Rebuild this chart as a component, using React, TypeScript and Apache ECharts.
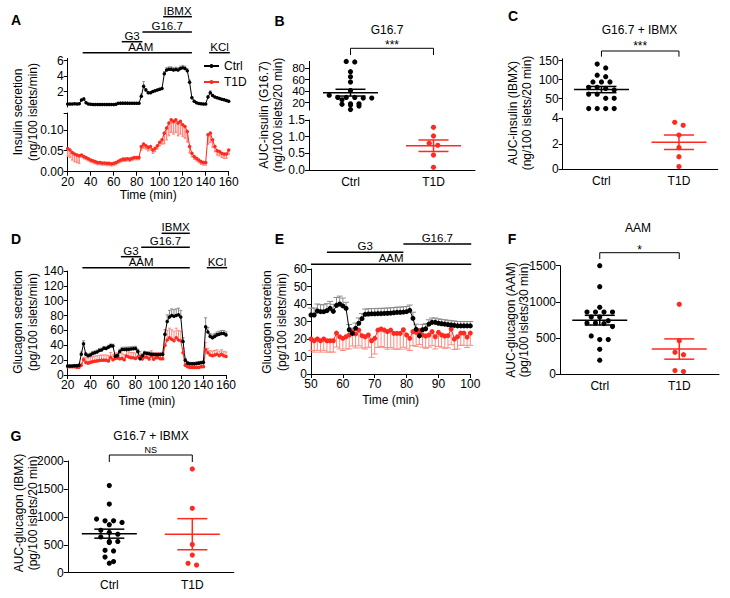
import React, { useEffect, useRef } from "react";
import * as echarts from "echarts";

const FONT = "'Liberation Sans', Arial, Helvetica, sans-serif";
const BLACK = "#000000";
const RED = "#ff2a1f";
const RED_ERR = "#ff8a80";
const GREY_ERR = "#8c8c8c";

// ---------------- DATA ----------------
const groups = ["Ctrl", "T1D"];

// perifusion sampling times (min)
const timesAD = [20, 22, 24, 26, 28, 30, 32, 34, 36, 38, 40, 42, 44, 46, 48, 50, 52, 54, 56, 58, 60, 62, 64, 66, 68, 70, 72, 74, 76, 78, 80, 82, 84, 86, 88, 90, 92, 94, 96, 98, 100, 102, 104, 106, 108, 110, 112, 114, 116, 118, 120, 122, 124, 126, 128, 130, 132, 134, 136, 138, 140, 142, 144, 146, 148, 150, 152, 154, 156, 158, 160];
const timesE = [50, 51, 52, 53, 54, 55, 56, 57, 58, 59, 60, 61, 62, 63, 64, 65, 66, 67, 68, 69, 70, 71, 72, 73, 74, 75, 76, 77, 78, 79, 80, 81, 82, 83, 84, 85, 86, 87, 88, 89, 90, 91, 92, 93, 94, 95, 96, 97, 98, 99, 100];

// A: insulin secretion (ng/100 islets/min)
const insulinCtrl = [
  0.40, 0.40, 0.40, 0.41, 0.40, 0.42, 0.90, 1.05, 0.55, 0.40,
  0.35, 0.33, 0.33, 0.33, 0.32, 0.32, 0.32, 0.32, 0.32, 0.33,
  0.33, 0.35, 0.48, 0.50, 0.50, 0.50, 0.50, 0.48, 0.48, 0.48,
  0.48, 0.48, 1.40, 2.70, 2.20, 1.85, 1.85, 2.00, 2.10, 2.20,
  2.30, 2.40, 4.30, 4.80, 4.90, 4.90, 4.80, 4.85, 4.80, 5.00,
  5.10, 5.00, 4.70, 3.20, 1.20, 0.75, 0.55, 0.45, 0.42, 0.40,
  0.40, 1.30, 1.85, 1.50, 1.30, 1.20, 1.10, 1.00, 0.95, 0.85, 0.75,
];
const insulinCtrlSem = [
  0.05, 0.05, 0.05, 0.05, 0.05, 0.05, 0.10, 0.15, 0.08, 0.04,
  0.04, 0.04, 0.04, 0.04, 0.04, 0.04, 0.04, 0.04, 0.04, 0.04,
  0.04, 0.04, 0.05, 0.05, 0.05, 0.05, 0.05, 0.05, 0.05, 0.05,
  0.05, 0.05, 0.30, 0.60, 0.20, 0.12, 0.12, 0.12, 0.12, 0.12,
  0.12, 0.12, 0.30, 0.30, 0.30, 0.30, 0.30, 0.30, 0.30, 0.30,
  0.30, 0.30, 0.30, 0.30, 0.15, 0.05, 0.05, 0.05, 0.05, 0.05,
  0.05, 0.20, 0.25, 0.15, 0.08, 0.08, 0.08, 0.08, 0.08, 0.08, 0.08,
];
const insulinT1D = [
  0.055, 0.052, 0.046, 0.042, 0.040, 0.038, 0.040, 0.036, 0.034, 0.031,
  0.028, 0.026, 0.024, 0.022, 0.022, 0.021, 0.021, 0.020, 0.020, 0.019,
  0.020, 0.022, 0.025, 0.028, 0.030, 0.030, 0.031, 0.030, 0.032, 0.034,
  0.034, 0.034, 0.060, 0.066, 0.062, 0.058, 0.060, 0.052, 0.056, 0.062,
  0.070, 0.076, 0.092, 0.104, 0.116, 0.124, 0.120, 0.124, 0.116, 0.120,
  0.112, 0.108, 0.096, 0.060, 0.044, 0.036, 0.032, 0.028, 0.024, 0.022,
  0.022, 0.088, 0.092, 0.076, 0.060, 0.050, 0.048, 0.044, 0.042, 0.042, 0.052,
];
const insulinT1DSem = [
  0.018, 0.018, 0.018, 0.018, 0.018, 0.018, 0.005, 0.005, 0.005, 0.005,
  0.005, 0.005, 0.005, 0.005, 0.005, 0.005, 0.005, 0.005, 0.005, 0.005,
  0.005, 0.005, 0.005, 0.005, 0.005, 0.005, 0.005, 0.005, 0.005, 0.005,
  0.005, 0.005, 0.008, 0.010, 0.008, 0.008, 0.008, 0.008, 0.008, 0.008,
  0.008, 0.010, 0.025, 0.028, 0.030, 0.030, 0.030, 0.030, 0.030, 0.030,
  0.028, 0.028, 0.025, 0.015, 0.008, 0.006, 0.006, 0.006, 0.006, 0.006,
  0.006, 0.022, 0.022, 0.018, 0.012, 0.010, 0.010, 0.010, 0.010, 0.010, 0.010,
];

// D: glucagon secretion (pg/100 islets/min)
const glucagonCtrl = [
  12, 12, 12, 12.5, 12.5, 13, 28, 42, 28, 26,
  27, 29, 30, 31, 33, 33.7, 36, 35.6, 37.5, 39.2,
  38.9, 25.3, 26.1, 31.6, 34.3, 34.4, 34.5, 34.7, 35, 35.2,
  35.6, 31.8, 21.8, 25.8, 29.5, 29, 28.5, 28, 27.5, 27.5,
  27.5, 27.5, 28, 55, 72, 78, 80, 79, 80, 81,
  78, 45, 20, 16, 15, 15, 15, 15.5, 16, 16.5,
  17, 65, 58, 52, 50, 52, 54, 55, 56, 56, 54,
];
const glucagonCtrlSem = [
  1.5, 1.5, 1.5, 1.5, 1.5, 1.5, 3, 4, 2, 2.5,
  2.5, 2.5, 2.5, 2.5, 2.5, 2.5, 2.5, 2.5, 2.5, 2.5,
  2.5, 3, 3, 3, 3, 3, 3, 3, 3, 3,
  3, 3, 3, 3, 2.5, 2.5, 2.5, 2.5, 2.5, 2.5,
  2.5, 2.5, 2.5, 6, 9, 9, 9, 9, 9, 9,
  9, 5, 2, 2, 2, 2, 2, 2, 2, 2,
  2, 12, 6, 4, 4, 4, 4, 4, 4, 4, 4,
];
const glucagonT1D = [
  11, 11, 11, 11, 10.5, 10.5, 13, 21, 17, 16,
  17, 18, 18.5, 19, 19.5, 20, 20, 20, 19, 23.4,
  20.4, 22.3, 22.9, 21.9, 22.3, 20.4, 25.7, 24.2, 23.2, 23.2,
  22.3, 24.2, 24.8, 21.7, 24.2, 23.8, 21.7, 25.7, 21.3, 23.4,
  23.4, 22, 22, 40, 47, 50, 48, 46, 50, 47,
  46, 30, 13, 11, 10, 10, 10, 10, 10, 11,
  11, 34, 30, 27, 26, 27, 28, 26, 28, 26, 25,
];
const glucagonT1DSem = [
  1.5, 1.5, 1.5, 1.5, 1.5, 1.5, 3, 3, 7, 7,
  7, 7, 7, 7, 7, 7, 7, 7, 7, 7,
  7, 7, 7, 7, 7, 7, 7, 7, 7, 7,
  7, 7, 7, 7, 7, 7, 7, 7, 7, 7,
  7, 7, 7, 13, 13, 13, 13, 13, 13, 13,
  13, 6, 2, 2, 2, 2, 2, 2, 2, 2,
  2, 10, 6, 6, 6, 6, 6, 6, 6, 6, 6,
];

// E: glucagon secretion, 50-100 min
const glucagonECtrl = [
  33.7, 33.7, 36, 35.6, 35.6, 36.2, 37.5, 35.8, 39.2, 40,
  38.9, 37.5, 25.3, 23.2, 26.1, 29, 31.6, 34.1, 34.3, 34.4,
  34.4, 34.5, 34.5, 34.6, 34.7, 34.8, 35, 35.2, 35.2, 35.4,
  35.6, 36.4, 31.8, 25.5, 21.8, 25.3, 25.8, 28.5, 29.5, 29.5,
  29, 28.7, 28.5, 28.2, 28, 27.8, 27.5, 27.5, 27.5, 27.5, 27.5,
];
const glucagonECtrlSem = [
  4, 4, 4, 4, 4, 4, 4, 4, 4.5, 4.5,
  4.5, 3.5, 3, 3, 3, 3, 3, 3, 3, 3,
  3, 3, 3, 3, 3, 3, 3, 3, 3, 3,
  3, 3, 3.5, 3, 3, 3, 3, 2.5, 2.5, 2.5,
  2.5, 2.5, 2.5, 2.5, 2.5, 2.5, 2.5, 2.5, 2.5, 2.5, 2.5,
];
const glucagonET1D = [
  20, 19, 20, 19, 20, 19, 19, 19, 23.4, 21.3,
  20.4, 21.3, 22.3, 24, 22.9, 25.1, 21.9, 21.3, 22.3, 19,
  20.4, 25.1, 25.7, 25.1, 24.2, 25.1, 23.2, 23.2, 23.2, 25.3,
  22.3, 20.4, 24.2, 23.8, 24.8, 22.3, 21.7, 22.3, 24.2, 21.3,
  23.8, 22.3, 21.7, 21.9, 25.7, 20, 21.3, 23.4, 23.4, 21.1, 23.4,
];
const glucagonET1DSem = [
  6.5, 6.5, 6.5, 6.5, 6.5, 6.5, 6.5, 6.5, 8, 7,
  7, 7, 8, 8, 8, 9, 7, 7, 7, 9.5,
  9, 10, 10, 10, 10, 10, 9, 9, 9, 10,
  8, 7, 8, 8, 8, 7, 7, 7, 8, 7,
  8, 7, 7, 7, 9, 6, 7, 7, 7, 6, 7,
];

// B: AUC insulin G16.7 (ng/100 islets/20 min)
const aucInsG167Ctrl = [91, 92, 74, 65, 56, 41, 33, 29, 29, 28, 29, 28, 25, 18, 18, 17, 16, 14, 8];
const aucInsG167T1D = [1.28, 1.02, 0.74, 0.80, 0.45, 0.08];
// C: AUC insulin IBMX
const aucInsIbmxCtrl = [141, 131, 112, 108, 94, 94, 94, 80, 80, 77, 73, 62, 62, 51, 51, 24, 24, 24, 24];
const aucInsIbmxT1D = [3.69, 3.45, 2.69, 1.70, 0.99, 0.21];
// F: AUC glucagon AAM (pg/100 islets/30 min)
const aucGcgAamCtrl = [1500, 1210, 925, 860, 860, 860, 860, 790, 790, 740, 710, 710, 700, 660, 530, 480, 480, 345, 195];
const aucGcgAamT1D = [966, 465, 304, 271, 51, 37];
// G: AUC glucagon IBMX (pg/100 islets/20 min)
const aucGcgIbmxCtrl = [1560, 1230, 960, 930, 930, 900, 860, 760, 720, 690, 640, 560, 560, 540, 400, 390, 280, 200, 170];
const aucGcgIbmxT1D = [1857, 1152, 507, 316, 167, 137];

// tick values of the broken B axis (upper segment), split in two label sets
const bTopTicksA = [20, 60];
const bTopTicksB = [40, 80];

// perifusion protocols [label, start, end]
const protocolAD: [string, number, number][] = [
  ["IBMX", 103, 128],
  ["G16.7", 85, 128],
  ["G3", 67, 85],
  ["AAM", 33, 128],
  ["KCl", 143, 161],
];
const protocolE: [string, number, number][] = [
  ["G16.7", 79, 100.3],
  ["G3", 55, 79],
  ["AAM", 50, 100.3],
];

// ---------------- LAYOUT ----------------
const GRIDS = [
  { left: 67.7, top: 58.4, width: 161, height: 48.6 }, // 0 A top
  { left: 67.7, top: 113, width: 161, height: 58.7 }, // 1 A bottom
  { left: 309, top: 61.4, width: 166, height: 48.7 }, // 2 B top
  { left: 309, top: 120, width: 166, height: 50 }, // 3 B bottom
  { left: 562.7, top: 58.8, width: 155, height: 51.3 }, // 4 C top
  { left: 562.7, top: 118.3, width: 155, height: 51 }, // 5 C bottom
  { left: 67.7, top: 271, width: 158.3, height: 104 }, // 6 D
  { left: 311, top: 269, width: 159.3, height: 105 }, // 7 E
  { left: 560, top: 265.7, width: 159, height: 108.6 }, // 8 F
  { left: 67.8, top: 461, width: 166, height: 111.7 }, // 9 G
];

function tToX(g: number, t: number, min: number, max: number) {
  const gr = GRIDS[g];
  return gr.left + ((t - min) / (max - min)) * gr.width;
}
function catX(g: number, i: number) {
  const gr = GRIDS[g];
  return gr.left + ((i + 0.5) / groups.length) * gr.width;
}

const axisLineStyle = { show: true, lineStyle: { color: BLACK, width: 1 } };
const plain = (v: number) => String(v);

function yVal(gridIndex: number, min: number, max: number, opt: any = {}) {
  const a: any = {
    type: "value",
    gridIndex,
    min,
    max,
    position: "left",
    axisLine: opt.noLine ? { show: false } : axisLineStyle,
    axisTick: { show: true, length: 4, lineStyle: { color: BLACK, width: 1 }, ...(opt.tick || {}) },
    axisLabel: {
      color: BLACK,
      fontSize: 12,
      fontFamily: FONT,
      margin: 4,
      hideOverlap: false,
      showMinLabel: true,
      showMaxLabel: true,
      formatter: plain,
      ...(opt.label || {}),
    },
    splitLine: { show: false },
  };
  if (opt.interval !== undefined) a.interval = opt.interval;
  return a;
}
function xTime(gridIndex: number, min: number, max: number, interval: number, show: boolean, nameGap = 18) {
  return {
    type: "value",
    gridIndex,
    min,
    max,
    interval,
    show,
    name: show ? "Time (min)" : "",
    nameLocation: "middle",
    nameGap,
    nameTextStyle: { color: BLACK, fontSize: 12, fontFamily: FONT },
    axisLine: axisLineStyle,
    axisTick: { show: true, length: 4, lineStyle: { color: BLACK, width: 1 } },
    axisLabel: { color: BLACK, fontSize: 12, fontFamily: FONT, margin: 4, hideOverlap: false, formatter: plain },
    splitLine: { show: false },
  };
}
function xCat(gridIndex: number, show: boolean) {
  return {
    type: "category",
    gridIndex,
    data: groups,
    show,
    axisLine: axisLineStyle,
    axisTick: { show: false },
    axisLabel: { color: BLACK, fontSize: 12, fontFamily: FONT, margin: 6 },
    splitLine: { show: false },
  };
}

function lineSeries(name: string, xi: number, times: number[], vals: number[], color: string, size: number) {
  return {
    type: "line",
    name,
    xAxisIndex: xi,
    yAxisIndex: xi,
    data: times.map((t, i) => [t, vals[i]]),
    symbol: "circle",
    symbolSize: size,
    showSymbol: true,
    showAllSymbol: true,
    lineStyle: { color, width: 1 },
    itemStyle: { color },
    z: 4,
    silent: true,
  };
}

function errSeries(xi: number, times: number[], vals: number[], errs: number[], dir: number, color: string, cap: number, lw: number) {
  return {
    type: "custom",
    xAxisIndex: xi,
    yAxisIndex: xi,
    silent: true,
    z: 2,
    encode: { x: 0, y: 1 },
    data: times.map((t, i) => [t, vals[i], errs[i]]),
    renderItem: (_p: any, api: any) => {
      const t = api.value(0);
      const v = api.value(1);
      const e = api.value(2);
      const p = api.coord([t, v]);
      const q = api.coord([t, v + dir * e]);
      const st = { stroke: color, lineWidth: lw };
      return {
        type: "group",
        children: [
          { type: "line", shape: { x1: p[0], y1: p[1], x2: q[0], y2: q[1] }, style: st },
          { type: "line", shape: { x1: q[0] - cap, y1: q[1], x2: q[0] + cap, y2: q[1] }, style: st },
        ],
      };
    },
  };
}

function dotPlot(xi: number, cat: number, values: number[], color: string) {
  const n = values.length;
  const mean = values.reduce((s, v) => s + v, 0) / n;
  const sd = Math.sqrt(values.reduce((s, v) => s + (v - mean) * (v - mean), 0) / (n - 1));
  const sem = sd / Math.sqrt(n);
  return {
    type: "custom",
    xAxisIndex: xi,
    yAxisIndex: xi,
    silent: true,
    z: 5,
    encode: { x: 0, y: 1 },
    data: [[cat, mean]],
    renderItem: (_p: any, api: any) => {
      const pts = values.map((v) => api.coord([cat, v]));
      const order = pts.map((_, i) => i).sort((a, b) => pts[a][1] - pts[b][1]);
      const rows: number[][] = [];
      order.forEach((i) => {
        const row = rows[rows.length - 1];
        if (row && pts[i][1] - pts[row[0]][1] < 4.5) row.push(i);
        else rows.push([i]);
      });
      const children: any[] = [];
      rows.forEach((row) =>
        row.forEach((i, k) => {
          const dx = (k - (row.length - 1) / 2) * 8.5;
          children.push({ type: "circle", shape: { cx: pts[i][0] + dx, cy: pts[i][1], r: 2.6 }, style: { fill: color } });
        })
      );
      const m = api.coord([cat, mean]);
      const hi = api.coord([cat, mean + sem])[1];
      const lo = api.coord([cat, mean - sem])[1];
      const cx = m[0];
      const st = { stroke: color, lineWidth: 1.5 };
      children.push({ type: "line", shape: { x1: cx - 27.5, y1: m[1], x2: cx + 27.5, y2: m[1] }, style: st });
      children.push({ type: "line", shape: { x1: cx - 15, y1: hi, x2: cx + 15, y2: hi }, style: st });
      children.push({ type: "line", shape: { x1: cx - 15, y1: lo, x2: cx + 15, y2: lo }, style: st });
      children.push({ type: "line", shape: { x1: cx, y1: hi, x2: cx, y2: lo }, style: st });
      return { type: "group", children };
    },
  };
}

function txt(text: string, x: number, y: number, o: any = {}) {
  return {
    type: "text",
    x,
    y,
    z: 100,
    silent: true,
    rotation: o.rot || 0,
    style: {
      text,
      fill: BLACK,
      fontSize: o.size || 12,
      fontFamily: FONT,
      fontWeight: o.bold ? "bold" : "normal",
      align: o.align || "center",
      verticalAlign: "middle",
    },
  };
}
function seg(x1: number, y1: number, x2: number, y2: number, w = 1.5) {
  return { type: "line", z: 100, silent: true, shape: { x1, y1, x2, y2 }, style: { stroke: BLACK, lineWidth: w } };
}
function bracket(g: number, y: number, drop: number, label: string, labelY: number, size = 12) {
  const x1 = catX(g, 0);
  const x2 = catX(g, 1);
  return [
    { type: "polyline", z: 100, silent: true, shape: { points: [[x1, y + drop], [x1, y], [x2, y], [x2, y + drop]] }, style: { stroke: BLACK, lineWidth: 1, fill: "none" } },
    txt(label, (x1 + x2) / 2, labelY, { size }),
  ];
}
function protocolGraphics(list: [string, number, number][], g: number, min: number, max: number, barYs: number[], textShift: Record<string, number>) {
  const out: any[] = [];
  list.forEach(([label, s, e], i) => {
    const x1 = tToX(g, s, min, max);
    const x2 = tToX(g, e, min, max);
    const y = barYs[i];
    out.push(seg(x1, y, x2, y, 1.5));
    out.push(txt(label, (x1 + x2) / 2 + (textShift[label] || 0), y - 6.2, { size: 11.5 }));
  });
  return out;
}
function yTitle(l1: string, l2: string, x1: number, x2: number, y: number) {
  return [txt(l1, x1, y, { rot: Math.PI / 2 }), txt(l2, x2, y, { rot: Math.PI / 2 })];
}

function buildOption() {
  const fmt2 = (v: number) => v.toFixed(2);
  const fmt1 = (v: number) => v.toFixed(1);
  const graphics: any[] = [
    txt("A", 16, 20, { bold: true, size: 14 }),
    txt("B", 279.5, 20.5, { bold: true, size: 14 }),
    txt("C", 513, 15.5, { bold: true, size: 14 }),
    txt("D", 16, 238.8, { bold: true, size: 14 }),
    txt("E", 279.5, 238.8, { bold: true, size: 14 }),
    txt("F", 512, 238.8, { bold: true, size: 14 }),
    txt("G", 16, 436, { bold: true, size: 14 }),
    txt("G16.7", 387, 30),
    txt("G16.7 + IBMX", 639.5, 30),
    txt("AAM", 638, 228.3),
    txt("G16.7 + IBMX", 151, 435.7),
    ...bracket(2, 48.3, 6.7, "***", 44.7),
    ...bracket(4, 51, 5.7, "***", 46.4),
    ...bracket(8, 252.7, 6.3, "*", 249.7),
    ...bracket(9, 455, 7, "NS", 450, 9),
    ...yTitle("Insulin secretion", "(ng/100 islets/min)", 18, 32.5, 112),
    ...yTitle("AUC-insulin (G16.7)", "(ng/100 islets/20 min)", 264, 278, 115),
    ...yTitle("AUC-insulin (IBMX)", "(ng/100 islets/20 min)", 513, 527, 113),
    ...yTitle("Glucagon secretion", "(pg/100 islets/min)", 18, 33, 322),
    ...yTitle("Glucagon secretion", "(pg/100 islets/min)", 267, 282, 322),
    ...yTitle("AUC-glucagon (AAM)", "(pg/100 islets/30 min)", 510.5, 523.5, 320),
    ...yTitle("AUC-glucagon (IBMX)", "(pg/100 islets/20 min)", 19, 32.5, 513),
    ...protocolGraphics(protocolAD, 1, 20, 160, [16.7, 32, 41.7, 52.7, 52.7], { AAM: 3.5 }),
    ...protocolGraphics(protocolAD, 6, 20, 160, [233.3, 247.3, 256.7, 267.7, 267.7], { AAM: 5 }),
    ...protocolGraphics(protocolE, 7, 50, 100, [244, 252.3, 264.3], {}),
  ];

  return {
    animation: false,
    backgroundColor: "#ffffff",
    textStyle: { fontFamily: FONT },
    grid: GRIDS.map((g) => ({ ...g, containLabel: false, outerBoundsMode: "none" })),
    legend: {
      data: ["Ctrl", "T1D"],
      orient: "vertical",
      left: 203,
      top: 60,
      padding: 0,
      itemWidth: 15,
      itemHeight: 5,
      itemGap: 4,
      textStyle: { color: BLACK, fontSize: 12, fontFamily: FONT },
      selectedMode: false,
    },
    xAxis: [
      xTime(0, 20, 160, 20, false),
      xTime(1, 20, 160, 20, true, 17),
      xCat(2, false),
      xCat(3, true),
      xCat(4, false),
      xCat(5, true),
      xTime(6, 20, 160, 20, true, 20),
      xTime(7, 50, 100, 10, true, 20),
      xCat(8, true),
      xCat(9, true),
    ],
    yAxis: [
      yVal(0, 0, 6.3, { label: { customValues: [2, 4, 6] }, tick: { customValues: [2, 4, 6] } }),
      yVal(1, 0, 0.14, { label: { customValues: [0, 0.05, 0.1], formatter: fmt2 }, tick: { customValues: [0, 0.05, 0.1, 0.14] } }),
      yVal(2, 7, 92, { label: { customValues: bTopTicksA, fontSize: 11.5 }, tick: { customValues: bTopTicksA } }),
      yVal(3, 0, 1.5, { interval: 0.5, label: { formatter: fmt1 } }),
      yVal(4, 20, 155, { label: { customValues: [50, 100, 150] }, tick: { customValues: [50, 100, 150] } }),
      yVal(5, 0, 4, { interval: 2 }),
      yVal(6, 0, 140, { interval: 20 }),
      yVal(7, 0, 60, { interval: 10 }),
      yVal(8, 0, 1500, { interval: 500 }),
      yVal(9, 0, 2000, { interval: 500 }),
      // second label set for the upper B segment (same scale, same side)
      yVal(2, 7, 92, { noLine: true, label: { customValues: bTopTicksB, fontSize: 11.5 }, tick: { customValues: bTopTicksB } }),
    ],
    series: [
      // A
      errSeries(0, timesAD, insulinCtrl, insulinCtrlSem, 1, GREY_ERR, 1.2, 1),
      lineSeries("Ctrl", 0, timesAD, insulinCtrl, BLACK, 3.5),
      errSeries(1, timesAD, insulinT1D, insulinT1DSem, -1, RED_ERR, 1.2, 1.5),
      lineSeries("T1D", 1, timesAD, insulinT1D, RED, 3.5),
      // B
      dotPlot(2, 0, aucInsG167Ctrl, BLACK),
      dotPlot(3, 1, aucInsG167T1D, RED),
      // C
      dotPlot(4, 0, aucInsIbmxCtrl, BLACK),
      dotPlot(5, 1, aucInsIbmxT1D, RED),
      // D
      errSeries(6, timesAD, glucagonCtrl, glucagonCtrlSem, 1, GREY_ERR, 1.5, 1),
      errSeries(6, timesAD, glucagonT1D, glucagonT1DSem, 1, RED_ERR, 1.5, 1),
      lineSeries("T1D", 6, timesAD, glucagonT1D, RED, 3.5),
      lineSeries("Ctrl", 6, timesAD, glucagonCtrl, BLACK, 3.5),
      // E
      errSeries(7, timesE, glucagonECtrl, glucagonECtrlSem, 1, GREY_ERR, 3, 1),
      errSeries(7, timesE, glucagonET1D, glucagonET1DSem, -1, RED_ERR, 3, 1),
      lineSeries("T1D", 7, timesE, glucagonET1D, RED, 5),
      lineSeries("Ctrl", 7, timesE, glucagonECtrl, BLACK, 5),
      // F
      dotPlot(8, 0, aucGcgAamCtrl, BLACK),
      dotPlot(8, 1, aucGcgAamT1D, RED),
      // G
      dotPlot(9, 0, aucGcgIbmxCtrl, BLACK),
      dotPlot(9, 1, aucGcgIbmxT1D, RED),
    ],
    graphic: { elements: graphics },
  };
}

export default function App() {
  const ref = useRef<HTMLDivElement>(null);
  useEffect(() => {
    document.body.style.margin = "0";
    const chart = echarts.init(ref.current as HTMLDivElement, null, { renderer: "svg" });
    chart.setOption(buildOption() as any);
    return () => chart.dispose();
  }, []);
  return (
    <div
      ref={ref}
      style={{ position: "absolute", left: 0, top: 0, width: 730, height: 598, background: "#ffffff" }}
    />
  );
}
